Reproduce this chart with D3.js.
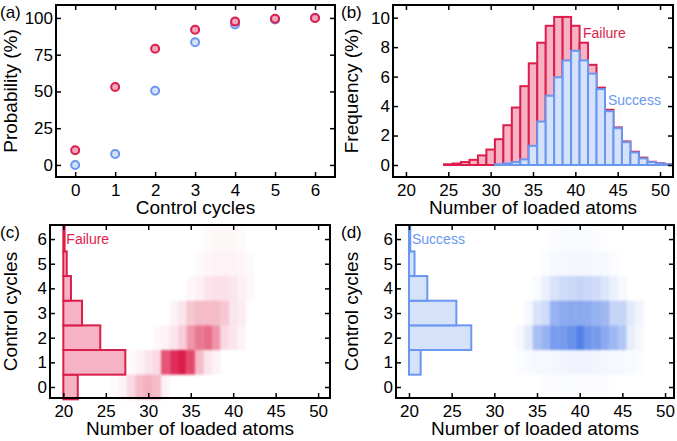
<!DOCTYPE html>
<html>
<head>
<meta charset="utf-8">
<script src="https://cdn.jsdelivr.net/npm/d3@7"></script>
<style>
  body { margin: 0; background: #fff; }
  svg { display: block; }
</style>
</head>
<body>
<script>

// data

const cycles = [0, 1, 2, 3, 4, 5, 6];
const failureProb = [10, 53, 79, 92, 97.5, 99.5, 100];
const successProb = [0, 7.5, 50.5, 83.5, 95.5, 99, 100];

const atoms = d3.range(20, 52);
const failureFreq = [0, 0, 0, 0, 0, 0.05, 0.1, 0.2, 0.35, 0.65, 1.05, 1.75, 2.7, 3.9, 5.35, 6.9,
  8.3, 9.45, 10.05, 10.05, 9.45, 8.3, 6.8, 5.25, 3.75, 2.55, 1.6, 0.9, 0.5, 0.22, 0.12, 0.05];
const successFreq = [0, 0, 0, 0, 0, 0, 0, 0, 0, 0, 0, 0.05, 0.1, 0.2, 0.38, 1.3,
  2.95, 4.7, 5.95, 7.1, 7.75, 7.1, 6.2, 5.15, 3.65, 2.5, 1.55, 0.85, 0.45, 0.2, 0.1, 0.05];

// control cycle histograms (bar end, in atoms axis units)
const failureCycleHist = [21.7, 27.3, 24.35, 22.2, 20.9, 20.4, 20.15];
const successCycleHist = [20, 21.37, 27.3, 25.55, 22.15, 20.65, 20.15];

// 2d maps, rows = control cycles 0..6, columns = atoms 26..48
const mapAtoms = d3.range(26, 49);
const failureMap = [
  [.02, .05, .15, .30, .35, .30, .05, 0, 0, 0, 0, 0, 0, 0, 0, 0, 0, 0, 0, 0, 0, 0, 0],
  [0, 0, .02, .05, .10, .15, .75, .90, 1.0, .80, .30, .10, .05, 0, 0, 0, 0, 0, 0, 0, 0, 0, 0],
  [0, 0, 0, 0, 0, .03, .05, .10, .20, .45, .60, .65, .45, .15, .10, .05, 0, 0, 0, 0, 0, 0, 0],
  [0, 0, 0, 0, 0, 0, 0, .05, .10, .25, .30, .30, .30, .25, .10, .08, 0, 0, 0, 0, 0, 0, 0],
  [0, 0, 0, 0, 0, 0, 0, 0, 0, .03, .06, .10, .12, .12, .10, .06, .03, 0, 0, 0, 0, 0, 0],
  [0, 0, 0, 0, 0, 0, 0, 0, 0, 0, .02, .04, .05, .05, .05, .04, .02, 0, 0, 0, 0, 0, 0],
  [0, 0, 0, 0, 0, 0, 0, 0, 0, 0, 0, .02, .03, .03, .03, .02, 0, 0, 0, 0, 0, 0, 0]
];
const successMap = [
  [0, 0, 0, 0, 0, 0, 0, 0, 0, 0, .01, .01, .02, .02, .02, .01, .01, .01, 0, 0, 0, 0, 0],
  [0, 0, 0, 0, 0, 0, 0, .02, .03, .04, .05, .06, .07, .08, .08, .08, .07, .06, .05, .04, .03, .02, 0],
  [0, 0, 0, 0, 0, 0, 0, .05, .15, .45, .55, .70, .72, .78, .90, .75, .70, .60, .50, .40, .12, .05, 0],
  [0, 0, 0, 0, 0, 0, 0, 0, .05, .20, .25, .55, .60, .62, .62, .60, .55, .50, .30, .30, .15, .08, 0],
  [0, 0, 0, 0, 0, 0, 0, 0, 0, .03, .10, .20, .25, .28, .30, .28, .25, .18, .10, .05, 0, 0, 0],
  [0, 0, 0, 0, 0, 0, 0, 0, 0, 0, .02, .04, .05, .06, .06, .06, .05, .04, .02, 0, 0, 0, 0],
  [0, 0, 0, 0, 0, 0, 0, 0, 0, 0, 0, .02, .03, .03, .03, .03, .02, 0, 0, 0, 0, 0, 0]
];

const probTicks = [0, 25, 50, 75, 100];
const freqTicks = [0, 2, 4, 6, 8, 10];
const atomTicks = [20, 25, 30, 35, 40, 45, 50];

// colours
const red = "#dc1e4b", redFill = "#f5b3c5";
const blue = "#6a97ef", blueFill = "#d6e2fa";
const redHeat = "#dc1a48", blueHeat = "#3f72e6";

const font = "'Liberation Sans', Arial, Helvetica, sans-serif";

const svg = d3.select("body").append("svg")
  .attr("width", 677)
  .attr("height", 441)
  .attr("font-family", font);

// blur for the heat maps
svg.append("defs").append("filter")
  .attr("id", "soft")
  .attr("x", "-10%").attr("y", "-10%").attr("width", "120%").attr("height", "120%")
  .append("feGaussianBlur")
  .attr("stdDeviation", 1.3);

// panel boxes: left, right, top, bottom in pixels
function makePanel(box, xDom, yDom) {
  const x = d3.scaleLinear().domain(xDom).range([box.l, box.r]);
  const y = d3.scaleLinear().domain(yDom).range([box.b, box.t]);
  const g = svg.append("g");
  return { box, x, y, g };
}

function drawFrame(p, xTicks, yTicks, xTitle, yTitle, label) {
  const { box, x, y } = p;
  const fg = svg.append("g");
  const fmt = d3.format("d");

  const styleAxis = sel => {
    sel.select(".domain").remove();
    sel.selectAll(".tick line").attr("stroke-width", 1.5);
    sel.attr("font-family", font).attr("font-size", 17);
  };

  fg.append("g").attr("transform", `translate(0,${box.b})`)
    .call(d3.axisBottom(x).tickValues(xTicks).tickFormat(fmt).tickSize(-5).tickPadding(7))
    .call(styleAxis);
  fg.append("g").attr("transform", `translate(0,${box.t})`)
    .call(d3.axisTop(x).tickValues(xTicks).tickSize(-5).tickFormat(""))
    .call(styleAxis);
  fg.append("g").attr("transform", `translate(${box.l},0)`)
    .call(d3.axisLeft(y).tickValues(yTicks).tickFormat(fmt).tickSize(-5).tickPadding(3))
    .call(styleAxis);
  fg.append("g").attr("transform", `translate(${box.r},0)`)
    .call(d3.axisRight(y).tickValues(yTicks).tickSize(-5).tickFormat(""))
    .call(styleAxis);

  fg.append("rect")
    .attr("x", box.l).attr("y", box.t)
    .attr("width", box.r - box.l).attr("height", box.b - box.t)
    .attr("fill", "none").attr("stroke", "#000").attr("stroke-width", 2);

  fg.append("text")
    .attr("x", (box.l + box.r) / 2).attr("y", box.b + 37)
    .attr("text-anchor", "middle").attr("font-size", 19)
    .text(xTitle);

  fg.append("text")
    .attr("transform", `translate(${label.x + 17},${(box.t + box.b) / 2}) rotate(-90)`)
    .attr("text-anchor", "middle").attr("font-size", 19)
    .text(yTitle);

  fg.append("text")
    .attr("x", label.x).attr("y", label.y)
    .attr("font-size", 17)
    .text(label.text);
}

// (a) probability vs control cycles
const pa = makePanel({ l: 56, r: 335, t: 5, b: 177 }, [-0.48, 6.5], [-8.2, 108.8]);

pa.g.selectAll("circle.success")
  .data(cycles)
  .join("circle")
  .attr("class", "success")
  .attr("cx", d => pa.x(d))
  .attr("cy", (d, i) => pa.y(successProb[i]))
  .attr("r", 4)
  .attr("fill", blueFill).attr("stroke", blue).attr("stroke-width", 2);

pa.g.selectAll("circle.failure")
  .data(cycles)
  .join("circle")
  .attr("class", "failure")
  .attr("cx", d => pa.x(d))
  .attr("cy", (d, i) => pa.y(failureProb[i]))
  .attr("r", 4)
  .attr("fill", "#f3a6bc").attr("stroke", red).attr("stroke-width", 2);

drawFrame(pa, cycles, probTicks, "Control cycles", "Probability (%)", { x: 0, y: 18, text: "(a)" });

// (b) histogram of loaded atoms
const pb = makePanel({ l: 393, r: 673, t: 5, b: 177 }, [18.47, 51.53], [-0.815, 10.86]);

function bars(p, values, fill, stroke) {
  p.g.append("g").selectAll("rect")
    .data(atoms)
    .join("rect")
    .attr("x", d => p.x(d - 0.5))
    .attr("width", d => p.x(d + 0.5) - p.x(d - 0.5))
    .attr("y", (d, i) => p.y(values[i]))
    .attr("height", (d, i) => p.y(0) - p.y(values[i]))
    .attr("fill", fill).attr("stroke", stroke).attr("stroke-width", 2);
}
bars(pb, failureFreq, redFill, red);
bars(pb, successFreq, blueFill, blue);

pb.g.append("text").attr("x", 583).attr("y", 38)
  .attr("fill", red).attr("font-size", 14).text("Failure");
pb.g.append("text").attr("x", 608).attr("y", 105)
  .attr("fill", blue).attr("font-size", 14).text("Success");

drawFrame(pb, atomTicks, freqTicks, "Number of loaded atoms", "Frequency (%)", { x: 341, y: 18, text: "(b)" });

// (c) and (d) maps with cycle histograms
function mapPanel(box, xDom, map, heat, hist, fill, stroke, name, label) {
  const p = makePanel(box, xDom, [-0.446, 6.57]);

  const cells = [];
  map.forEach((row, k) => row.forEach((v, j) => {
    if (v > 0) cells.push({ k, a: mapAtoms[j], v });
  }));

  p.g.append("g").attr("filter", "url(#soft)")
    .selectAll("rect")
    .data(cells)
    .join("rect")
    .attr("x", d => p.x(d.a - 0.5))
    .attr("width", d => p.x(d.a + 0.5) - p.x(d.a - 0.5))
    .attr("y", d => p.y(d.k + 0.5))
    .attr("height", d => p.y(d.k - 0.5) - p.y(d.k + 0.5))
    .attr("fill", heat)
    .attr("fill-opacity", d => d.v);

  p.g.append("g").selectAll("rect")
    .data(cycles)
    .join("rect")
    .attr("x", p.x(20))
    .attr("width", (d, i) => p.x(hist[i]) - p.x(20))
    .attr("y", d => p.y(d + 0.5))
    .attr("height", d => p.y(d - 0.5) - p.y(d + 0.5))
    .attr("fill", fill).attr("stroke", stroke).attr("stroke-width", 2);

  p.g.append("text").attr("x", p.x(20) + 3).attr("y", box.t + 19)
    .attr("fill", stroke).attr("font-size", 14).text(name);

  drawFrame(p, atomTicks, cycles, "Number of loaded atoms", "Control cycles", label);
}

mapPanel({ l: 50, r: 330, t: 225, b: 398 }, [18.43, 51.4], failureMap, redHeat,
  failureCycleHist, redFill, red, "Failure", { x: 0, y: 238, text: "(c)" });
mapPanel({ l: 396, r: 674, t: 225, b: 398 }, [18.48, 51.05], successMap, blueHeat,
  successCycleHist, blueFill, blue, "Success", { x: 341, y: 238, text: "(d)" });

</script>
</body>
</html>
